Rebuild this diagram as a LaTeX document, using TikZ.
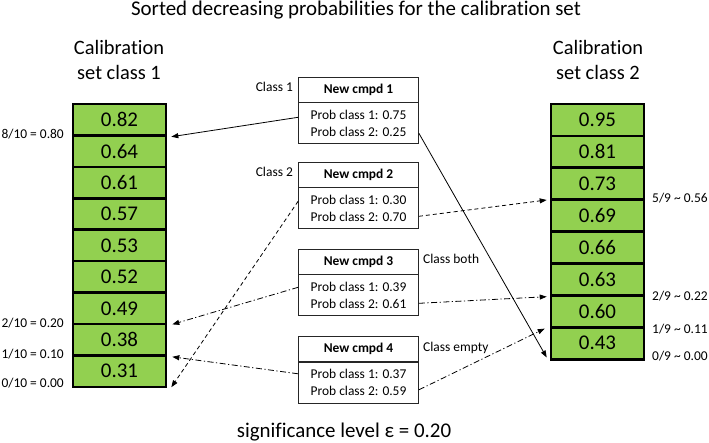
\documentclass[tikz,border=0pt]{standalone}
\usepackage{fontspec}
\setmainfont[Ligatures=NoCommon]{Carlito}
\usetikzlibrary{arrows.meta,calc}
\definecolor{cellgreen}{HTML}{92D050}
\begin{document}
\begin{tikzpicture}[x=1bp,y=-1bp,
  cellL/.style={draw=black,line width=2.6bp,fill=cellgreen,minimum width=93bp,minimum height=31.44bp,inner sep=0pt,font=\fontsize{21}{24}\selectfont},
  cellR/.style={cellL,minimum height=31.9bp},
  small/.style={font=\fontsize{13.5}{16}\selectfont,inner sep=0pt},
  hdr/.style={draw=black!85,line width=0.8bp,minimum width=120bp,minimum height=25bp,inner sep=0pt,font=\fontsize{13.5}{16}\selectfont\bfseries},
  body/.style={draw=black!85,line width=0.8bp,minimum width=120bp,minimum height=41bp,inner sep=0pt,align=center,font=\fontsize{13.5}{17}\selectfont},
  arr/.style={line width=0.8bp,-{Triangle[length=7bp,width=5bp]}},
  dsh/.style={arr,dash pattern=on 4bp off 3bp},
  dshdot/.style={arr,dash pattern=on 6bp off 2.5bp on 1.2bp off 2.5bp}
]
\useasboundingbox (0,0) rectangle (709,443);

% title
\node[font=\fontsize{21}{24}\selectfont,anchor=base,inner sep=0pt] (title) at (356,16) {Sorted decreasing probabilities for the calibration set};
\node[font=\fontsize{20.5}{25}\selectfont,align=center,inner sep=0pt] (hL) at (119,60) {Calibration\\set class 1};
\node[font=\fontsize{20.5}{25}\selectfont,align=center,inner sep=0pt] (hR) at (598,60) {Calibration\\set class 2};

% left column
\foreach \v [count=\i] in {0.82,0.64,0.61,0.57,0.53,0.52,0.49,0.38,0.31}{
  \node[cellL] (L\i) at (119.5,{104+31.44*(\i-0.5)}) {\v};
}
% right column
\foreach \v [count=\i] in {0.95,0.81,0.73,0.69,0.66,0.63,0.60,0.43}{
  \node[cellR] (R\i) at (597.5,{104+31.9*(\i-0.5)}) {\v};
}

% left labels
\node[small,anchor=mid east] (l80) at (64,136) {8/10 = 0.80};
\node[small,anchor=mid east] (l20) at (64,325) {2/10 = 0.20};
\node[small,anchor=mid east] (l10) at (64,356) {1/10 = 0.10};
\node[small,anchor=mid east] (l00) at (64,385) {0/10 = 0.00};
% right labels
\node[small,anchor=mid west] (r56) at (652,200) {5/9 \char"007E{} 0.56};
\node[small,anchor=mid west] (r22) at (652,298) {2/9 \char"007E{} 0.22};
\node[small,anchor=mid west] (r11) at (652,331) {1/9 \char"007E{} 0.11};
\node[small,anchor=mid west] (r00) at (652,358) {0/9 \char"007E{} 0.00};

% new compounds
\node[hdr] (N1h) at (358.5,89.5) {New cmpd 1};
\node[body,anchor=north] (N1b) at (N1h.south) {Prob class 1: 0.75\\Prob class 2: 0.25};
\node[hdr] (N2h) at (358.5,174.5) {New cmpd 2};
\node[body,anchor=north] (N2b) at (N2h.south) {Prob class 1: 0.30\\Prob class 2: 0.70};
\node[hdr] (N3h) at (358.5,261.5) {New cmpd 3};
\node[body,anchor=north] (N3b) at (N3h.south) {Prob class 1: 0.39\\Prob class 2: 0.61};
\node[hdr] (N4h) at (358.5,349) {New cmpd 4};
\node[body,anchor=north] (N4b) at (N4h.south) {Prob class 1: 0.37\\Prob class 2: 0.59};

\node[small,anchor=mid east] (c1) at ([xshift=-5bp]N1h.west) {Class 1};
\node[small,anchor=mid east] (c2) at ([xshift=-5bp]N2h.west) {Class 2};
\node[small,anchor=mid west] (c3) at ([xshift=4bp]N3h.east) {Class both};
\node[small,anchor=mid west] (c4) at ([xshift=4bp]N4h.east) {Class empty};

% arrows
\draw[arr] ($(N1b.west)+(0,-6)$) -- ($(L1.south east)+(4,0)$);
\draw[arr] ($(N1b.east)+(0,10)$) -- ($(R8.south west)+(-3,-3)$);
\draw[dsh] ($(N2b.west)+(0,-7)$) -- ($(L9.south east)+(4,-1)$);
\draw[dsh] ($(N2b.east)+(0,8)$) -- ($(R3.south west)+(-3,-1)$);
\draw[dshdot] ($(N3b.west)+(0,-8)$) -- ($(L7.south east)+(5,-1)$);
\draw[dshdot] ($(N3b.east)+(0,8)$) -- ($(R6.south west)+(-3,0)$);
\draw[dshdot] ($(N4b.west)+(0,-9)$) -- ($(L8.south east)+(5,0)$);
\draw[dshdot] ($(N4b.east)+(0,7)$) -- ($(R7.south west)+(-5,0)$);

\node[font=\fontsize{21}{24}\selectfont,anchor=base,inner sep=0pt] (sig) at (344,437) {significance level ε = 0.20};
\end{tikzpicture}
\end{document}
